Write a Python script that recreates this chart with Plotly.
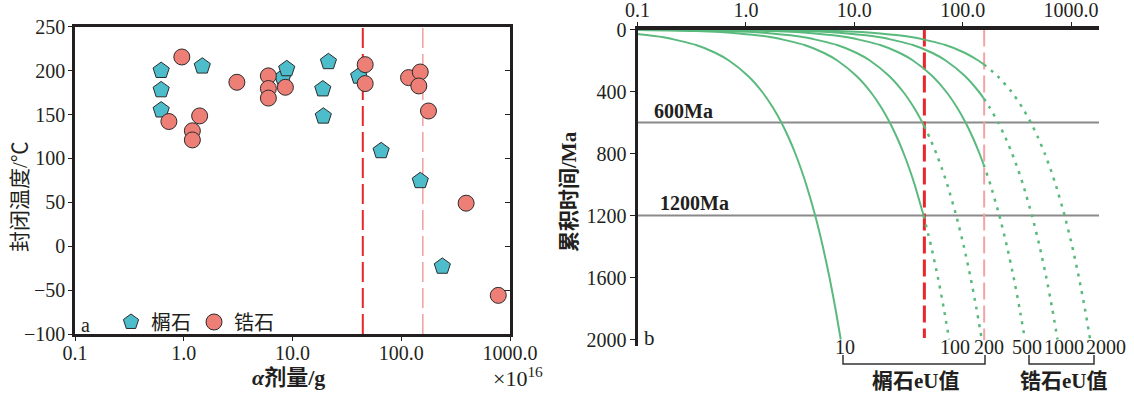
import math
import plotly.graph_objects as go

# ---------------- Panel a: closure temperature vs alpha dose ----------------
titanite_dose = [0.62, 0.62, 0.62, 1.48, 8.13, 8.85, 21.4, 19.0, 19.2, 40.6, 65.3, 149.6, 238.6]
titanite_temp = [200, 178, 155, 205, 192, 202, 210, 179, 148, 193.5, 108.6, 74.5, -23]

zircon_dose = [0.96, 0.73, 1.40, 1.20, 1.20, 3.08, 6.0, 6.0, 6.0, 8.6, 46.6, 46.6,
               116.7, 149.6, 145, 178, 395, 780]
zircon_temp = [215.5, 142, 148.4, 131.4, 121, 186.7, 194, 179.6, 168.7, 181, 206.8, 185.2,
               192, 198.4, 182.5, 154, 49, -56]

red_dose = 44.3     # x10^16 /g
pink_dose = 157.8   # x10^16 /g

x_ticks = [0.1, 1, 10, 100, 1000]
x_ticktext = ["0.1", "1.0", "10.0", "100.0", "1000.0"]
temp_ticks = [-100, -50, 0, 50, 100, 150, 200, 250]

# ---------------- Panel b: accumulated time vs alpha dose ----------------
time_ticks = [0, 400, 800, 1200, 1600, 2000]
ref_lines = [600, 1200]

# eU = 10 (titanite) - solid all the way
t_10 = [25, 50, 100, 150, 200, 300, 400, 500, 600, 700, 800, 900, 1000, 1200, 1400, 1600, 1800, 2000]
d_10 = [0.0863, 0.173, 0.347, 0.521, 0.696, 1.048, 1.404, 1.762, 2.124, 2.488, 2.856, 3.226, 3.60,
        4.356, 5.124, 5.904, 6.696, 7.50]

# eU = 100
t_100_s = [1, 3, 10, 25, 50, 100, 150, 200, 300, 400, 500, 600, 700, 800, 900, 1000, 1200]
d_100_s = [0.0345, 0.1035, 0.345, 0.863, 1.73, 3.47, 5.21, 6.96, 10.48, 14.04, 17.62, 21.24,
           24.88, 28.56, 32.26, 36.0, 43.56]
t_100_d = [1200, 1400, 1600, 1800, 2000]
d_100_d = [43.56, 51.24, 59.04, 66.96, 75.0]

# eU = 200
t_200_s = [1, 3, 10, 25, 50, 100, 150, 200, 300, 400, 500, 600, 620]
d_200_s = [0.069, 0.207, 0.69, 1.726, 3.46, 6.94, 10.42, 13.92, 20.96, 28.08, 35.24, 42.48, 43.93]
t_200_d = [620, 700, 800, 900, 1000, 1200, 1400, 1600, 1800, 2000]
d_200_d = [43.93, 49.76, 57.12, 64.52, 72.0, 87.12, 102.5, 118.1, 133.9, 150.0]

# eU = 500 (zircon)
t_500_s = [1, 3, 10, 25, 50, 100, 150, 200, 300, 400, 500, 600, 700, 800, 870]
d_500_s = [0.1725, 0.5175, 1.725, 4.315, 8.65, 17.35, 26.05, 34.8, 52.4, 70.2, 88.1, 106.2,
           124.4, 142.8, 155.7]
t_500_d = [870, 900, 1000, 1200, 1400, 1600, 1800, 2000]
d_500_d = [155.7, 161.3, 180.0, 217.8, 256.2, 295.2, 334.8, 375.0]

# eU = 1000
t_1000_s = [1, 3, 10, 25, 50, 100, 150, 200, 300, 400, 445]
d_1000_s = [0.345, 1.035, 3.45, 8.63, 17.3, 34.7, 52.1, 69.6, 104.8, 140.4, 156.5]
t_1000_d = [445, 500, 600, 700, 800, 900, 1000, 1200, 1400, 1600, 1800, 2000]
d_1000_d = [156.5, 176.2, 212.4, 248.8, 285.6, 322.6, 360.0, 435.6, 512.4, 590.4, 669.6, 750.0]

# eU = 2000
t_2000_s = [1, 3, 10, 25, 50, 100, 150, 200, 225]
d_2000_s = [0.69, 2.07, 6.9, 17.26, 34.6, 69.4, 104.2, 139.2, 156.8]
t_2000_d = [225, 300, 400, 500, 600, 700, 800, 900, 1000, 1200, 1400, 1600, 1800, 2000]
d_2000_d = [156.8, 209.6, 280.8, 352.4, 424.8, 497.6, 571.2, 645.2, 720.0, 871.2, 1024.8,
            1180.8, 1339.2, 1500.0]

eu_labels = ["10", "100", "200", "500", "1000", "2000"]
eu_end_dose = [d_10[-1], d_100_d[-1], d_200_d[-1], d_500_d[-1], d_1000_d[-1], d_2000_d[-1]]
eu_label_shift = [4, 6, 7, 2, 6, 16]

# ---------------- styling ----------------
W, H = 1134, 397
FONT = "Liberation Serif, Noto Sans CJK SC, serif"
CJK = "Liberation Serif, Noto Sans CJK SC, sans-serif"
AX = "#231f20"
GREEN = "#5aba7e"
RED = "#e8262b"
PINK = "#f4a3a3"
CYAN = "#4dbdcc"
SALMON = "#ee7f77"
TICK = 20


def px(x):
    return x / W


def py(y):
    return (H - y) / H


X2_RANGE = [-1, 3.2574]


def x2dom(v):
    return (math.log10(v) - X2_RANGE[0]) / (X2_RANGE[1] - X2_RANGE[0])


fig = go.Figure()

# Panel a reference lines
fig.add_trace(go.Scatter(x=[red_dose, red_dose], y=[-100, 250], mode="lines",
                         line=dict(color=RED, width=2, dash="20px,6px"),
                         showlegend=False, xaxis="x", yaxis="y", hoverinfo="skip"))
fig.add_trace(go.Scatter(x=[pink_dose, pink_dose], y=[-100, 250], mode="lines",
                         line=dict(color=PINK, width=1.6, dash="20px,6px"),
                         showlegend=False, xaxis="x", yaxis="y", hoverinfo="skip"))
# markers
fig.add_trace(go.Scatter(x=titanite_dose, y=titanite_temp, mode="markers", name="榍石",
                         marker=dict(symbol="pentagon", size=17, color=CYAN,
                                     line=dict(color="#2b2b2b", width=1)),
                         xaxis="x", yaxis="y"))
fig.add_trace(go.Scatter(x=zircon_dose, y=zircon_temp, mode="markers", name="锆石",
                         marker=dict(symbol="circle", size=16, color=SALMON,
                                     line=dict(color="#2b2b2b", width=1)),
                         xaxis="x", yaxis="y"))
# invisible point so the right-side tick axis is drawn
fig.add_trace(go.Scatter(x=[1], y=[0], mode="markers", marker=dict(opacity=0),
                         xaxis="x", yaxis="y3", showlegend=False, hoverinfo="skip"))

# Panel b threshold lines
fig.add_trace(go.Scatter(x=[red_dose, red_dose], y=[0, 1990], mode="lines",
                         line=dict(color=RED, width=3, dash="17px,6px"),
                         showlegend=False, xaxis="x2", yaxis="y2", hoverinfo="skip"))
fig.add_trace(go.Scatter(x=[pink_dose, pink_dose], y=[0, 2005], mode="lines",
                         line=dict(color=PINK, width=2, dash="17px,6px"),
                         showlegend=False, xaxis="x2", yaxis="y2", hoverinfo="skip"))

solid = [(d_10, t_10), (d_100_s, t_100_s), (d_200_s, t_200_s), (d_500_s, t_500_s),
         (d_1000_s, t_1000_s), (d_2000_s, t_2000_s)]
dotted = [(d_100_d, t_100_d), (d_200_d, t_200_d), (d_500_d, t_500_d),
          (d_1000_d, t_1000_d), (d_2000_d, t_2000_d)]
for d, t in solid:
    fig.add_trace(go.Scatter(x=d, y=t, mode="lines",
                             line=dict(color=GREEN, width=2, shape="spline", smoothing=0.6),
                             showlegend=False, xaxis="x2", yaxis="y2", hoverinfo="skip"))
for d, t in dotted:
    fig.add_trace(go.Scatter(x=d, y=t, mode="lines",
                             line=dict(color=GREEN, width=2.5, dash="3px,6px",
                                       shape="spline", smoothing=0.6),
                             showlegend=False, xaxis="x2", yaxis="y2", hoverinfo="skip"))

shapes = []
for v in ref_lines:
    shapes.append(dict(type="line", xref="x2 domain", x0=0, x1=1, yref="y2", y0=v, y1=v,
                       line=dict(color="#8a8a8a", width=2), layer="below"))
# brackets under eU labels
for x0, x1 in [(843, 985), (1029, 1094)]:
    shapes.append(dict(type="path", xref="paper", yref="paper",
                       path=f"M {px(x0)},{py(355)} L {px(x0)},{py(364)} L {px(x1)},{py(364)} L {px(x1)},{py(355)}",
                       line=dict(color="#333333", width=1.5)))


def note(text, x, y, xref="paper", yref="paper", size=18, family=CJK, **kw):
    d = dict(text=text, x=x, y=y, xref=xref, yref=yref, xanchor="center", yanchor="middle",
             showarrow=False, font=dict(size=size, family=family, color="#231f20"))
    d.update(kw)
    return d


ann = [
    note("<b><i>α</i>剂量/g</b>", px(288), py(377), size=22),
    note("×10<sup>16</sup>", px(518), py(377), size=22, family=FONT),
    note("封闭温度/℃", px(20), py(197), size=21, textangle=-90),
    note("a", px(85), py(325), size=20, family=FONT),
    note("b", px(649), py(338), size=21, family=FONT),
    note("<b>累积时间/Ma</b>", px(569), py(192), size=21, textangle=-90),
    note("<b>600Ma</b>", px(683), ref_lines[0], yref="y2", yshift=12, size=20, family=FONT),
    note("<b>1200Ma</b>", px(694), ref_lines[1], yref="y2", yshift=13, size=20, family=FONT),
    note("<b>榍石eU值</b>", px(916), py(381), size=21),
    note("<b>锆石eU值</b>", px(1064), py(381), size=21),
]
for lab, v, s in zip(eu_labels, eu_end_dose, eu_label_shift):
    ann.append(note(lab, x2dom(v), py(347), xref="x2 domain", xshift=s, size=TICK, family=FONT))

axis_common = dict(showgrid=False, zeroline=False, showline=True, linecolor=AX, automargin=False,
                   tickcolor=AX, tickfont=dict(size=TICK, family=FONT, color="#231f20"))

fig.update_layout(
    width=W, height=H,
    margin=dict(l=0, r=0, t=0, b=0, autoexpand=False),
    paper_bgcolor="white", plot_bgcolor="white",
    font=dict(family=FONT, size=18, color="#231f20"),
    xaxis=dict(type="log", range=[-1, 3], domain=[px(75), px(510)], anchor="y",
               tickvals=x_ticks, ticktext=x_ticktext, ticks="outside", ticklen=4,
               ticklabelstandoff=-5, linewidth=2.5, mirror=True, **axis_common),
    yaxis=dict(range=[-100, 250], domain=[py(334), py(26.7)], anchor="x",
               tickvals=temp_ticks, ticks="outside", ticklen=4, linewidth=2.5,
               ticklabelstandoff=-1, mirror=True, **axis_common),
    yaxis3=dict(range=[-100, 250], overlaying="y", side="right", anchor="x",
                tickvals=temp_ticks, ticks="inside", ticklen=5, tickcolor=AX, automargin=False,
                showticklabels=False, showgrid=False, zeroline=False, showline=False),
    xaxis2=dict(type="log", range=X2_RANGE, domain=[px(637.5), px(1099)], anchor="y2",
                side="top", tickvals=x_ticks, ticktext=x_ticktext, ticks="outside",
                ticklen=4, ticklabelstandoff=-3, linewidth=3.5, **axis_common),
    yaxis2=dict(range=[2040, 0], domain=[py(345.7), py(29.5)], anchor="x2",
                tickvals=time_ticks, ticks="outside", ticklen=5, linewidth=3,
                ticklabelstandoff=-1, **axis_common),
    shapes=shapes,
    annotations=ann,
    showlegend=True,
    legend=dict(orientation="h", x=px(111), y=py(322), xanchor="left", yanchor="middle",
                bgcolor="rgba(0,0,0,0)", font=dict(size=20, family=CJK),
                itemwidth=30, tracegroupgap=0, entrywidth=38, entrywidthmode="pixels"),
)

fig.write_html("out.html", config={"displayModeBar": False},
               post_script="document.body.style.margin='0px';")
